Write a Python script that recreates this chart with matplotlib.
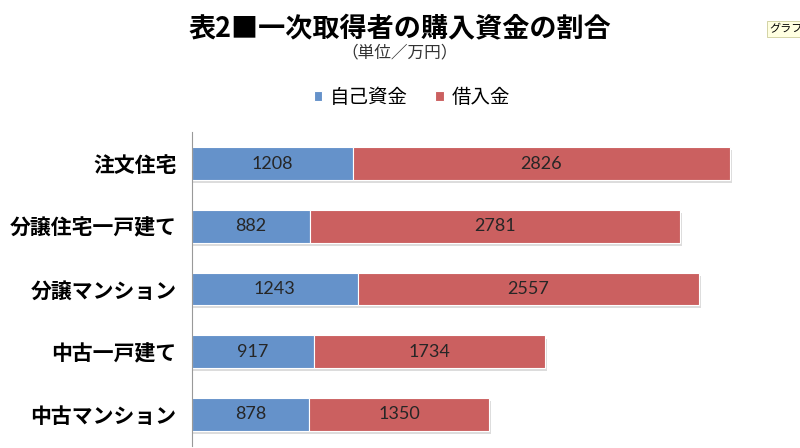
import matplotlib
matplotlib.use('Agg')
import matplotlib.pyplot as plt
import numpy as np

plt.rcParams['font.family'] = ['Noto Sans CJK JP', 'DejaVu Sans']

categories = ['注文住宅', '分譲住宅一戸建て', '分譲マンション', '中古一戸建て', '中古マンション']
own_funds = [1208, 882, 1243, 917, 878]
loans = [2826, 2781, 2557, 1734, 1350]
series_names = ['自己資金', '借入金']
colors = ['#6592CA', '#CB6060']

fig = plt.figure(figsize=(8, 4.48), dpi=100)
ax = fig.add_axes([0.24, 0.005, 0.76, 0.70])

y = np.arange(len(categories))
h = 0.52

# soft drop shadow under each bar
tot = np.array(own_funds) + np.array(loans)
ax.barh(y + 0.05, tot + 15, height=h, left=0, color='#bbbbbb', alpha=0.5, zorder=1)

b1 = ax.barh(y, own_funds, height=h, color=colors[0], edgecolor='white', linewidth=0.8, zorder=2)
b2 = ax.barh(y, loans, height=h, left=own_funds, color=colors[1], edgecolor='white', linewidth=0.8, zorder=2)

num_font = dict(family=['Lato', 'DejaVu Sans'], fontsize=13, fontweight='normal', color='#262626')
for i in range(len(categories)):
    ax.text(own_funds[i] / 2, y[i], str(own_funds[i]), ha='center', va='center', zorder=3, **num_font)
    ax.text(own_funds[i] + loans[i] / 2, y[i], str(loans[i]), ha='center', va='center', zorder=3, **num_font)

ax.set_xlim(0, 4560)
ax.set_ylim(len(categories) - 0.5, -0.5)
ax.set_yticks(y)
ax.set_yticklabels(categories, fontsize=15, fontweight='bold')
ax.tick_params(axis='y', length=0, pad=11)
ax.set_xticks([])
for s in ['top', 'right', 'bottom']:
    ax.spines[s].set_visible(False)
ax.spines['left'].set_color('#999999')
ax.spines['left'].set_linewidth(0.8)

fig.text(0.5, 0.937, '表2■一次取得者の購入資金の割合', ha='center', va='center',
         fontsize=19.5, fontweight='bold')
fig.text(0.5, 0.882, '（単位／万円）', ha='center', va='center', fontsize=12, color='#333333')

leg = fig.legend([b1, b2], series_names, loc='center', bbox_to_anchor=(0.515, 0.783), ncol=2,
                 frameon=False, fontsize=14, handlelength=0.45, handleheight=0.45,
                 handletextpad=0.4, columnspacing=1.4)

fig.text(0.962, 0.935, 'グラフ', ha='left', va='center', fontsize=8, style='italic',
         bbox=dict(boxstyle='square,pad=0.25', fc='#FFFFE1', ec='#cccc99', lw=0.6))

fig.savefig('out.png', dpi=100)
